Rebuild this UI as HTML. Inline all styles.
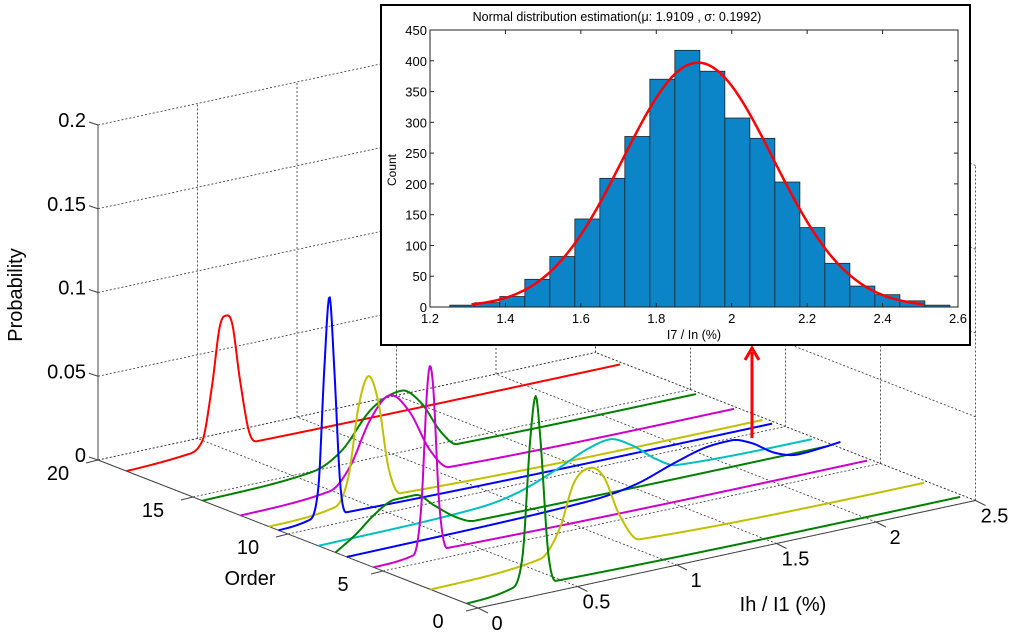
<!DOCTYPE html>
<html><head><meta charset="utf-8"><style>
html,body{margin:0;padding:0;background:#fff;}
svg{display:block;font-family:"Liberation Sans",Arial,sans-serif;}
</style></head><body>
<svg id="chart" width="1024" height="635" viewBox="0 0 1024 635" xmlns="http://www.w3.org/2000/svg">
<rect x="0" y="0" width="1024" height="635" fill="#fff"/>
<g id="grid"></g>
<g id="axes"></g>
<g id="curves"></g>
<text x="22" y="295" font-size="20" text-anchor="middle" transform="rotate(-90 22 295)">Probability</text>
<text x="250" y="585" font-size="20" text-anchor="middle">Order</text>
<text x="783" y="611" font-size="20" text-anchor="middle">Ih / I1 (%)</text>
<g id="arrow">
<line x1="752" y1="438" x2="752" y2="352" stroke="#ff0000" stroke-width="3"/>
<polyline points="745,360 752,348 759,360" fill="none" stroke="#ff0000" stroke-width="3"/>
</g>
<g id="inset">
<rect x="381" y="5" width="589" height="340" fill="#fff" stroke="#000" stroke-width="2"/>
<text x="617" y="21" font-size="12.5" text-anchor="middle">Normal distribution estimation(μ: 1.9109 , σ: 0.1992)</text>
<text x="694" y="339" font-size="12.5" text-anchor="middle">I7 / In (%)</text>
<text x="396" y="170" font-size="12" text-anchor="middle" transform="rotate(-90 396 170)">Count</text>
<g id="insetPlot"></g>
</g>
</svg>
<script>
// ---------- 3D waterfall data ----------
const curveOrders = [18.5, 14.5, 12.5, 11, 10.5, 8.4, 7.5, 6.9, 5.5, 2.5, 0.6];
const curveColors = ["#ff0000", "#008000", "#cc00cc", "#c0c000", "#0000ff", "#00bfbf", "#008000", "#0000ff", "#cc00cc", "#c0c000", "#008000"];
const curveNames = ["red", "green-a", "magenta-a", "yellow-a", "blue-a", "cyan", "green-b", "blue-b", "magenta-b", "yellow-b", "green-c"];
const curveX = [
  [0, 0.3, 0.38, 0.43, 0.47, 0.5, 0.53, 0.57, 0.62, 0.66, 2.48],
  [0, 0.55, 0.7, 0.85, 1.0, 1.1, 1.2, 1.28, 2.48],
  [0, 0.45, 0.55, 0.65, 0.75, 0.85, 0.95, 1.05, 2.48],
  [0, 0.33, 0.4, 0.45, 0.5, 0.55, 0.6, 0.66, 2.48],
  [0, 0.15, 0.2, 0.23, 0.256, 0.28, 0.31, 0.34, 2.48],
  [0, 0.8, 1.0, 1.2, 1.35, 1.46, 1.57, 1.7, 1.8, 2.48],
  [0, 0.1, 0.2, 0.3, 0.4, 0.5, 0.6, 0.7, 2.48],
  [0, 1.2, 1.45, 1.65, 1.8, 1.93, 2.03, 2.15, 2.27, 2.4, 2.48],
  [0, 0.2, 0.24, 0.27, 0.284, 0.3, 0.33, 0.37, 2.48],
  [0, 0.55, 0.65, 0.72, 0.8, 0.87, 0.95, 1.05, 2.48],
  [0, 0.22, 0.28, 0.32, 0.347, 0.37, 0.41, 0.45, 2.48]
];
const curveZ = [
  [0, 0.002, 0.008, 0.04, 0.075, 0.08, 0.075, 0.04, 0.006, 0.001, 0],
  [0, 0.003, 0.012, 0.033, 0.04, 0.03, 0.01, 0.001, 0],
  [0, 0.003, 0.015, 0.04, 0.0525, 0.04, 0.015, 0.002, 0],
  [0, 0.003, 0.02, 0.06, 0.077, 0.06, 0.02, 0.003, 0],
  [0, 0.002, 0.02, 0.09, 0.133, 0.09, 0.02, 0.002, 0],
  [0, 0.002, 0.006, 0.015, 0.023, 0.026, 0.02, 0.008, 0.002, 0],
  [0, 0.008, 0.018, 0.024, 0.024, 0.015, 0.006, 0.001, 0],
  [0, 0.002, 0.006, 0.014, 0.019, 0.02, 0.016, 0.007, 0.003, 0.004, 0.005],
  [0, 0.002, 0.03, 0.1, 0.113, 0.1, 0.03, 0.002, 0],
  [0, 0.004, 0.02, 0.045, 0.052, 0.045, 0.02, 0.003, 0],
  [0, 0.003, 0.02, 0.09, 0.115, 0.09, 0.02, 0.002, 0]
];
const zTicks = [0, 0.05, 0.1, 0.15, 0.2];
const zTickLabels = ["0", "0.05", "0.1", "0.15", "0.2"];
const xTicks = [0, 0.5, 1, 1.5, 2, 2.5];
const xTickLabels = ["0", "0.5", "1", "1.5", "2", "2.5"];
const orderTicks = [0, 5, 10, 15, 20];
const orderTickLabels = ["0", "5", "10", "15", "20"];

// ---------- inset histogram data ----------
const binStart = 1.2525;
const binWidth = 0.0663;
const binCounts = [3, 7, 17, 45, 82, 143, 209, 277, 370, 417, 383, 307, 274, 203, 129, 71, 34, 20, 10, 3];
const insetXTicks = [1.2, 1.4, 1.6, 1.8, 2, 2.2, 2.4, 2.6];
const insetXTickLabels = ["1.2", "1.4", "1.6", "1.8", "2", "2.2", "2.4", "2.6"];
const insetYTicks = [0, 50, 100, 150, 200, 250, 300, 350, 400, 450];
const fitMu = [1.9109];
const fitSigma = [0.1992];
const fitPeak = [397];
const fitRange = [1.31, 2.51];

const NS = "http://www.w3.org/2000/svg";
function mk(tag, attrs, parent) {
  const e = document.createElementNS(NS, tag);
  for (const k in attrs) e.setAttribute(k, attrs[k]);
  parent.appendChild(e);
  return e;
}
function P(x, o, z) {
  return [478 + 199 * x - 19 * o, 608 - 43 * x - 7.4 * o - 1675 * z];
}
const grid = document.getElementById('grid');
const axes = document.getElementById('axes');
const curves = document.getElementById('curves');
const dash = {stroke: "#333", "stroke-width": 0.8, "stroke-dasharray": "2,2", fill: "none"};
function dline(a, b, name) {
  const l = mk('line', Object.assign({x1: a[0], y1: a[1], x2: b[0], y2: b[1]}, dash), grid);
  
  
}
xTicks.forEach(x => { dline(P(x, 0, 0), P(x, 20, 0), 'floor-grid-x'); });
orderTicks.forEach(o => { dline(P(0, o, 0), P(2.5, o, 0), 'floor-grid-order'); });
zTicks.forEach(z => { dline(P(0, 20, z), P(2.5, 20, z), 'back-wall-grid-z'); });
xTicks.forEach(x => { dline(P(x, 20, 0), P(x, 20, 0.2), 'back-wall-grid-x'); });
zTicks.forEach(z => { dline(P(2.5, 0, z), P(2.5, 20, z), 'side-wall-grid-z'); });
orderTicks.forEach(o => { dline(P(2.5, o, 0), P(2.5, o, 0.2), 'side-wall-grid-order'); });

function sline(a, b, name) {
  const l = mk('line', {x1: a[0], y1: a[1], x2: b[0], y2: b[1], stroke: "#444", "stroke-width": 1}, axes);
  
  
}
sline(P(0, 20, 0), P(0, 20, 0.2), 'z-axis-line');
sline(P(0, 0, 0), P(0, 20, 0), 'order-axis-line');
sline(P(0, 0, 0), P(2.5, 0, 0), 'x-axis-line');
zTicks.forEach((z, i) => {
  const p = P(0, 20, z);
  sline(p, [p[0] - 9, p[1] - 3], 'z-tick');
  const t = mk('text', {x: p[0] - 12, y: p[1] + 2, "font-size": 20, "text-anchor": "end"}, axes);
  
  
  t.textContent = zTickLabels[i];
});
orderTicks.forEach((o, i) => {
  const p = P(0, o, 0);
  sline(p, [p[0] - 12, p[1] + 3], 'order-tick');
  const t = mk('text', {x: p[0] - 40, y: p[1] + 20, "font-size": 20, "text-anchor": "middle"}, axes);
  
  
  t.textContent = orderTickLabels[i];
});
xTicks.forEach((x, i) => {
  const p = P(x, 0, 0);
  sline(p, [p[0] + 10, p[1] + 5], 'x-tick');
  const t = mk('text', {x: p[0] + 19, y: p[1] + 22, "font-size": 20, "text-anchor": "middle"}, axes);
  
  
  t.textContent = xTickLabels[i];
});

// monotone cubic (Fritsch-Carlson) interpolation in data space
function monotone(xs, ys) {
  const n = xs.length, d = [], m = new Array(n);
  for (let i = 0; i < n - 1; i++) d.push((ys[i + 1] - ys[i]) / (xs[i + 1] - xs[i]));
  m[0] = d[0]; m[n - 1] = d[n - 2];
  for (let i = 1; i < n - 1; i++) m[i] = (d[i - 1] * d[i] <= 0) ? 0 : (d[i - 1] + d[i]) / 2;
  for (let i = 0; i < n - 1; i++) {
    if (d[i] === 0) { m[i] = 0; m[i + 1] = 0; continue; }
    const a = m[i] / d[i], b = m[i + 1] / d[i], s = a * a + b * b;
    if (s > 9) { const t = 3 / Math.sqrt(s); m[i] = t * a * d[i]; m[i + 1] = t * b * d[i]; }
  }
  return function (x) {
    let i = 0;
    while (i < n - 2 && x > xs[i + 1]) i++;
    const h = xs[i + 1] - xs[i], t = (x - xs[i]) / h;
    const h00 = 2 * t * t * t - 3 * t * t + 1, h10 = t * t * t - 2 * t * t + t, h01 = -2 * t * t * t + 3 * t * t, h11 = t * t * t - t * t;
    return h00 * ys[i] + h10 * h * m[i] + h01 * ys[i + 1] + h11 * h * m[i + 1];
  };
}
curveOrders.forEach((o, i) => {
  const xs = curveX[i], zs = curveZ[i];
  const f = monotone(xs, zs);
  const pts = [];
  const x0 = xs[0], x1 = xs[xs.length - 1];
  for (let k = 0; k <= 500; k++) {
    const x = x0 + (x1 - x0) * k / 500;
    pts.push(P(x, o, f(x)));
  }
  const d = pts.map((p, k) => (k ? "L" : "M") + p[0].toFixed(2) + "," + p[1].toFixed(2)).join(" ");
  const path = mk('path', {d: d, fill: "none", stroke: curveColors[i], "stroke-width": 2, "stroke-linejoin": "round"}, curves);
  
  
});

// ---------- inset ----------
const ip = document.getElementById('insetPlot');
const L = 430, R = 958, T = 30, B = 307;
const ix = v => L + (v - 1.2) / 1.4 * (R - L);
const iy = c => B - c / 450 * (B - T);
binCounts.forEach((c, i) => {
  const x0 = ix(binStart + i * binWidth), x1 = ix(binStart + (i + 1) * binWidth);
  const r = mk('rect', {x: x0, y: iy(c), width: x1 - x0, height: B - iy(c), fill: "#0b84c8", stroke: "#222", "stroke-width": 0.8}, ip);
  
  
});
const frame = mk('rect', {x: L, y: T, width: R - L, height: B - T, fill: "none", stroke: "#222", "stroke-width": 1}, ip);


insetXTicks.forEach((v, i) => {
  const x = ix(v);
  mk('line', {x1: x, y1: B, x2: x, y2: B - 4, stroke: "#222"}, ip);
  mk('line', {x1: x, y1: T, x2: x, y2: T + 4, stroke: "#222"}, ip);
  const t = mk('text', {x: x, y: B + 16, "font-size": 13, "text-anchor": "middle"}, ip);
  
  
  t.textContent = insetXTickLabels[i];
});
insetYTicks.forEach(v => {
  const y = iy(v);
  mk('line', {x1: L, y1: y, x2: L + 4, y2: y, stroke: "#222"}, ip);
  mk('line', {x1: R, y1: y, x2: R - 4, y2: y, stroke: "#222"}, ip);
  const t = mk('text', {x: L - 3, y: y + 5, "font-size": 13, "text-anchor": "end"}, ip);
  
  
  t.textContent = String(v);
});
let fd = "";
for (let k = 0; k <= 120; k++) {
  const v = fitRange[0] + (fitRange[1] - fitRange[0]) * k / 120;
  const c = fitPeak[0] * Math.exp(-0.5 * Math.pow((v - fitMu[0]) / fitSigma[0], 2));
  fd += (k ? " L" : "M") + ix(v).toFixed(2) + "," + iy(c).toFixed(2);
}
const fit = mk('path', {d: fd, fill: "none", stroke: "#ff0000", "stroke-width": 2.5}, ip);


</script>
</body></html>
